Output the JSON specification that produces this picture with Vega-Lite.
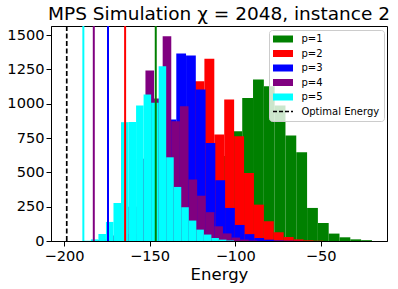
{
  "$schema": "https://vega.github.io/schema/vega-lite/v6.json",
  "width": 336,
  "height": 215,
  "autosize": {"type": "none"},
  "padding": {"left": 51, "top": 26, "right": 11, "bottom": 48},
  "config": {
    "font": "DejaVu Sans",
    "view": {"stroke": "black", "strokeWidth": 1},
    "axis": {
      "grid": false, "domainColor": "black", "tickColor": "black",
      "labelColor": "black", "titleColor": "black",
      "labelFont": "DejaVu Sans", "titleFont": "DejaVu Sans",
      "labelFontSize": 14.6, "titleFontSize": 16.5, "titleFontWeight": "normal",
      "tickSize": 5, "labelPadding": 2
    }
  },
  "title": {
    "text": "MPS Simulation χ = 2048, instance 2",
    "fontSize": 18.5, "fontWeight": "normal", "font": "DejaVu Sans",
    "color": "black", "anchor": "middle", "offset": 2
  },
  "datasets": {
    "bars": [
      {"p": "p=1", "lo": -146.4, "hi": -140.09, "n": 3},
      {"p": "p=1", "lo": -140.09, "hi": -133.77, "n": 15},
      {"p": "p=1", "lo": -133.77, "hi": -127.46, "n": 50},
      {"p": "p=1", "lo": -127.46, "hi": -121.14, "n": 130},
      {"p": "p=1", "lo": -121.14, "hi": -114.83, "n": 260},
      {"p": "p=1", "lo": -114.83, "hi": -108.51, "n": 420},
      {"p": "p=1", "lo": -108.51, "hi": -102.2, "n": 620},
      {"p": "p=1", "lo": -102.2, "hi": -95.88, "n": 800},
      {"p": "p=1", "lo": -95.88, "hi": -89.57, "n": 1043},
      {"p": "p=1", "lo": -89.57, "hi": -83.25, "n": 1177},
      {"p": "p=1", "lo": -83.25, "hi": -76.94, "n": 1128},
      {"p": "p=1", "lo": -76.94, "hi": -70.62, "n": 987},
      {"p": "p=1", "lo": -70.62, "hi": -64.31, "n": 769},
      {"p": "p=1", "lo": -64.31, "hi": -57.99, "n": 647},
      {"p": "p=1", "lo": -57.99, "hi": -51.68, "n": 241},
      {"p": "p=1", "lo": -51.68, "hi": -45.36, "n": 131},
      {"p": "p=1", "lo": -45.36, "hi": -39.05, "n": 54},
      {"p": "p=1", "lo": -39.05, "hi": -32.73, "n": 27},
      {"p": "p=1", "lo": -32.73, "hi": -26.42, "n": 12},
      {"p": "p=1", "lo": -26.42, "hi": -20.1, "n": 6},
      {"p": "p=2", "lo": -164.3, "hi": -158.51, "n": 2},
      {"p": "p=2", "lo": -158.51, "hi": -152.72, "n": 8},
      {"p": "p=2", "lo": -152.72, "hi": -146.93, "n": 30},
      {"p": "p=2", "lo": -146.93, "hi": -141.14, "n": 90},
      {"p": "p=2", "lo": -141.14, "hi": -135.35, "n": 220},
      {"p": "p=2", "lo": -135.35, "hi": -129.56, "n": 450},
      {"p": "p=2", "lo": -129.56, "hi": -123.77, "n": 800},
      {"p": "p=2", "lo": -123.77, "hi": -117.98, "n": 1165},
      {"p": "p=2", "lo": -117.98, "hi": -112.19, "n": 1328},
      {"p": "p=2", "lo": -112.19, "hi": -106.4, "n": 776},
      {"p": "p=2", "lo": -106.4, "hi": -100.61, "n": 1031},
      {"p": "p=2", "lo": -100.61, "hi": -94.82, "n": 764},
      {"p": "p=2", "lo": -94.82, "hi": -89.03, "n": 496},
      {"p": "p=2", "lo": -89.03, "hi": -83.24, "n": 265},
      {"p": "p=2", "lo": -83.24, "hi": -77.45, "n": 144},
      {"p": "p=2", "lo": -77.45, "hi": -71.66, "n": 63},
      {"p": "p=2", "lo": -71.66, "hi": -65.87, "n": 29},
      {"p": "p=2", "lo": -65.87, "hi": -60.08, "n": 12},
      {"p": "p=2", "lo": -60.08, "hi": -54.29, "n": 5},
      {"p": "p=2", "lo": -54.29, "hi": -48.5, "n": 2},
      {"p": "p=3", "lo": -174.3, "hi": -168.6, "n": 3},
      {"p": "p=3", "lo": -168.6, "hi": -162.9, "n": 12},
      {"p": "p=3", "lo": -162.9, "hi": -157.2, "n": 50},
      {"p": "p=3", "lo": -157.2, "hi": -151.5, "n": 150},
      {"p": "p=3", "lo": -151.5, "hi": -145.8, "n": 350},
      {"p": "p=3", "lo": -145.8, "hi": -140.1, "n": 650},
      {"p": "p=3", "lo": -140.1, "hi": -134.4, "n": 885},
      {"p": "p=3", "lo": -134.4, "hi": -128.7, "n": 1367},
      {"p": "p=3", "lo": -128.7, "hi": -123.0, "n": 1352},
      {"p": "p=3", "lo": -123.0, "hi": -117.3, "n": 1104},
      {"p": "p=3", "lo": -117.3, "hi": -111.6, "n": 715},
      {"p": "p=3", "lo": -111.6, "hi": -105.9, "n": 443},
      {"p": "p=3", "lo": -105.9, "hi": -100.2, "n": 241},
      {"p": "p=3", "lo": -100.2, "hi": -94.5, "n": 117},
      {"p": "p=3", "lo": -94.5, "hi": -88.8, "n": 50},
      {"p": "p=3", "lo": -88.8, "hi": -83.1, "n": 22},
      {"p": "p=3", "lo": -83.1, "hi": -77.4, "n": 10},
      {"p": "p=3", "lo": -77.4, "hi": -71.7, "n": 4},
      {"p": "p=3", "lo": -71.7, "hi": -66.0, "n": 2},
      {"p": "p=3", "lo": -66.0, "hi": -60.3, "n": 1},
      {"p": "p=4", "lo": -182.6, "hi": -177.57, "n": 5},
      {"p": "p=4", "lo": -177.57, "hi": -172.54, "n": 12},
      {"p": "p=4", "lo": -172.54, "hi": -167.51, "n": 40},
      {"p": "p=4", "lo": -167.51, "hi": -162.48, "n": 100},
      {"p": "p=4", "lo": -162.48, "hi": -157.45, "n": 250},
      {"p": "p=4", "lo": -157.45, "hi": -152.42, "n": 600},
      {"p": "p=4", "lo": -152.42, "hi": -147.39, "n": 1243},
      {"p": "p=4", "lo": -147.39, "hi": -142.36, "n": 1038},
      {"p": "p=4", "lo": -142.36, "hi": -137.33, "n": 1493},
      {"p": "p=4", "lo": -137.33, "hi": -132.3, "n": 873},
      {"p": "p=4", "lo": -132.3, "hi": -127.27, "n": 982},
      {"p": "p=4", "lo": -127.27, "hi": -122.24, "n": 448},
      {"p": "p=4", "lo": -122.24, "hi": -117.21, "n": 330},
      {"p": "p=4", "lo": -117.21, "hi": -112.18, "n": 210},
      {"p": "p=4", "lo": -112.18, "hi": -107.15, "n": 107},
      {"p": "p=4", "lo": -107.15, "hi": -102.12, "n": 55},
      {"p": "p=4", "lo": -102.12, "hi": -97.09, "n": 25},
      {"p": "p=4", "lo": -97.09, "hi": -92.06, "n": 10},
      {"p": "p=4", "lo": -92.06, "hi": -87.03, "n": 4},
      {"p": "p=4", "lo": -87.03, "hi": -82.0, "n": 1},
      {"p": "p=5", "lo": -188.7, "hi": -184.3, "n": 2},
      {"p": "p=5", "lo": -184.3, "hi": -179.9, "n": 12},
      {"p": "p=5", "lo": -179.9, "hi": -175.5, "n": 51},
      {"p": "p=5", "lo": -175.5, "hi": -171.1, "n": 139},
      {"p": "p=5", "lo": -171.1, "hi": -166.7, "n": 277},
      {"p": "p=5", "lo": -166.7, "hi": -162.3, "n": 866},
      {"p": "p=5", "lo": -162.3, "hi": -157.9, "n": 868},
      {"p": "p=5", "lo": -157.9, "hi": -153.5, "n": 987},
      {"p": "p=5", "lo": -153.5, "hi": -149.1, "n": 1068},
      {"p": "p=5", "lo": -149.1, "hi": -144.7, "n": 1007},
      {"p": "p=5", "lo": -144.7, "hi": -140.3, "n": 1274},
      {"p": "p=5", "lo": -140.3, "hi": -135.9, "n": 610},
      {"p": "p=5", "lo": -135.9, "hi": -131.5, "n": 394},
      {"p": "p=5", "lo": -131.5, "hi": -127.1, "n": 246},
      {"p": "p=5", "lo": -127.1, "hi": -122.7, "n": 149},
      {"p": "p=5", "lo": -122.7, "hi": -118.3, "n": 83},
      {"p": "p=5", "lo": -118.3, "hi": -113.9, "n": 47},
      {"p": "p=5", "lo": -113.9, "hi": -109.5, "n": 22},
      {"p": "p=5", "lo": -109.5, "hi": -105.1, "n": 10},
      {"p": "p=5", "lo": -105.1, "hi": -100.7, "n": 4}
    ],
    "mins": [
      {"p": "p=1", "e": -146.4},
      {"p": "p=2", "e": -164.3},
      {"p": "p=3", "e": -174.3},
      {"p": "p=4", "e": -182.6},
      {"p": "p=5", "e": -188.7}
    ],
    "opt": [
      {"p": "Optimal Energy", "e": -198.4}
    ]
  },
  "layer": [
    {
      "data": {"name": "bars"},
      "mark": {"type": "bar", "strokeWidth": 0},
      "encoding": {
        "x": {
          "field": "lo", "type": "quantitative",
          "scale": {"domain": [-207.6, -11.3], "nice": false, "zero": false},
          "axis": {"values": [-200, -150, -100, -50], "title": "Energy", "titlePadding": 4}
        },
        "x2": {"field": "hi"},
        "y": {
          "field": "n", "type": "quantitative", "stack": null,
          "scale": {"domain": [0, 1567], "nice": false},
          "axis": {"values": [0, 250, 500, 750, 1000, 1250, 1500], "title": null, "format": "d"}
        },
        "y2": {"datum": 0},
        "color": {
          "field": "p", "type": "nominal",
          "scale": {
            "domain": ["p=1", "p=2", "p=3", "p=4", "p=5", "Optimal Energy"],
            "range": ["#008000", "#ff0000", "#0000ff", "#800080", "#00ffff", "#000000"]
          },
          "legend": {
            "title": null, "orient": "none", "legendX": 218, "legendY": 4,
            "padding": 4, "strokeColor": "#cccccc", "fillColor": "rgba(255,255,255,0.8)",
            "cornerRadius": 3, "labelFontSize": 10, "labelFont": "DejaVu Sans",
            "labelColor": "black", "symbolType": "M-1,-0.7H3V0.7H-1Z",
            "symbolSize": 100, "labelOffset": 18.4, "rowPadding": 4.5,
            "encode": {
              "symbols": {
                "update": {
                  "shape": {"signal": "datum.value === 'Optimal Energy' ? 'M-1,0H3' : 'M-1,-0.7H3V0.7H-1Z'"},
                  "fill": {"signal": "datum.value === 'Optimal Energy' ? 'transparent' : scale('color', datum.value)"},
                  "strokeDash": {"value": [4, 2]},
                  "strokeWidth": {"signal": "datum.value === 'Optimal Energy' ? 1.5 : 0"},
                  "opacity": {"value": 1}
                }
              }
            }
          }
        }
      }
    },
    {
      "data": {"name": "mins"},
      "mark": {"type": "rule", "strokeWidth": 2},
      "encoding": {
        "x": {"field": "e", "type": "quantitative"},
        "stroke": {
          "field": "p", "type": "nominal", "legend": null,
          "scale": {
            "domain": ["p=1", "p=2", "p=3", "p=4", "p=5"],
            "range": ["#008000", "#ff0000", "#0000ff", "#800080", "#00ffff"]
          }
        }
      }
    },
    {
      "data": {"name": "opt"},
      "mark": {"type": "rule", "strokeWidth": 1.7, "strokeDash": [5, 2.5]},
      "encoding": {
        "x": {"field": "e", "type": "quantitative"},
        "color": {"field": "p", "type": "nominal"}
      }
    }
  ]
}
